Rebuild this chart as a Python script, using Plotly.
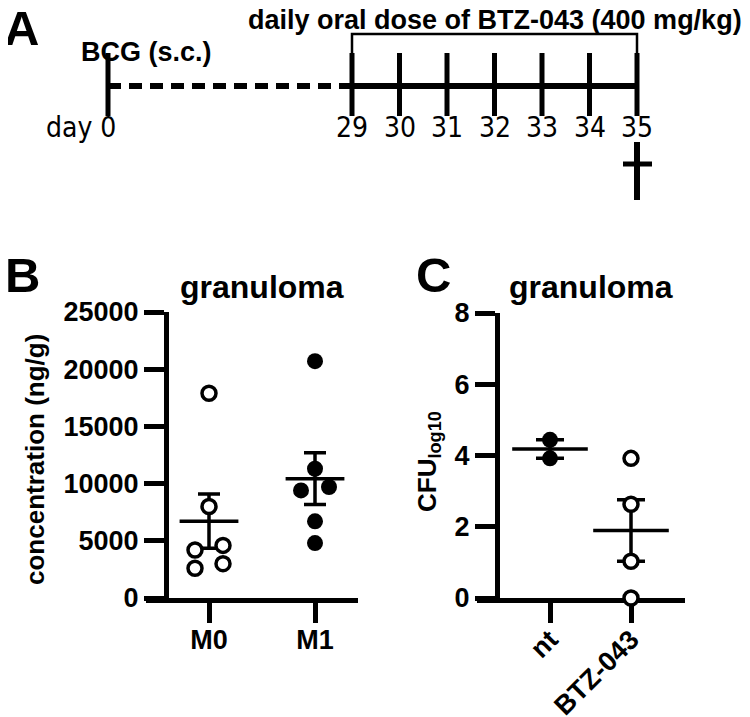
import numpy as np
import plotly.graph_objects as go

# panel A: BCG at day 0, daily BTZ-043 oral dose on days 29-35
bcg_day = 0
dose_days = [29, 30, 31, 32, 33, 34, 35]
day_labels = ["day 0", "29", "30", "31", "32", "33", "34", "35"]

# panel B: granuloma drug concentration (ng/g)
groups_b = ["M0", "M1"]
conc_m0 = [17900, 8000, 4200, 4600, 2600, 3000]
conc_m1 = [20700, 11300, 9400, 9700, 6700, 4800]
yticks_b = [0, 5000, 10000, 15000, 20000, 25000]

# panel C: granuloma CFU (log10)
groups_c = ["nt", "BTZ-043"]
cfu_nt = [4.44, 3.92]
cfu_btz = [3.92, 2.63, 1.03, 0.0]
yticks_c = [0, 2, 4, 6, 8]

# page is 750x717 but the body keeps its 8px margin, so the figure is a bit smaller
PAGE_W, PAGE_H = 750, 717
OFF = 8
W, H = PAGE_W - OFF, PAGE_H - OFF
FONT = "Liberation Sans, Arial, Helvetica, sans-serif"
NARROW = "Liberation Sans Narrow, Arial Narrow, DejaVu Sans Condensed, Liberation Sans, sans-serif"


def fx(px):
    return (px - OFF) / W


def fy(py):
    return 1 - (py - OFF) / H


def cat_range(dom, cats):
    # x range so the two categories land on the given pixel columns
    ppu = cats[1] - cats[0]
    return [-(cats[0] - dom[0]) / ppu, 1 + (dom[1] - cats[1]) / ppu], ppu


def swarm(vals, ppu_y, diam=17, step=28):
    # simple row-binned swarm: points closer than a marker diameter sit side by side
    vals = np.asarray(vals, dtype=float)
    order = np.argsort(vals)
    offs = np.zeros(len(vals))
    groups, cur = [], [order[0]]
    for i in order[1:]:
        if (vals[i] - vals[cur[0]]) * ppu_y < diam:
            cur.append(i)
        else:
            groups.append(cur)
            cur = [i]
    groups.append(cur)
    for g in groups:
        for k, i in enumerate(g):
            offs[i] = (k - (len(g) - 1) / 2) * step
    return offs


def sem(v):
    v = np.asarray(v, dtype=float)
    return v.std(ddof=1) / np.sqrt(len(v))


fig = go.Figure()

# ---------- panel A (timeline) ----------
ppd = (637 - 352) / (dose_days[-1] - dose_days[0])
xr3 = [dose_days[0] - (352 - OFF) / ppd, dose_days[-1] + (PAGE_W - 637) / ppd]
gap = (352 - 108) / ppd


def tpos(d):
    # broken timeline: day 0 drawn a fixed gap before day 29
    return d if d >= dose_days[0] else dose_days[0] - gap


line_y = 86
fig.add_trace(go.Scatter(x=[tpos(bcg_day), tpos(dose_days[0])], y=[line_y, line_y], mode="lines",
                         line=dict(color="black", width=6, dash="13px,8px"), xaxis="x3", yaxis="y3"))
fig.add_trace(go.Scatter(x=[tpos(dose_days[0]), tpos(dose_days[-1])], y=[line_y, line_y], mode="lines",
                         line=dict(color="black", width=6), xaxis="x3", yaxis="y3"))
all_days = [bcg_day] + dose_days
fig.add_trace(go.Scatter(x=[tpos(d) for d in all_days], y=[84.5] * len(all_days), mode="markers",
                         marker=dict(symbol="line-ns", size=45, line=dict(color="black", width=5)),
                         xaxis="x3", yaxis="y3"))
# bracket over the dosing period
fig.add_trace(go.Scatter(x=[dose_days[0], dose_days[0], dose_days[-1], dose_days[-1]], y=[55, 34, 34, 55],
                         mode="lines", line=dict(color="black", width=2.5), xaxis="x3", yaxis="y3"))
# cross (sacrifice) under day 35
fig.add_trace(go.Scatter(x=[dose_days[-1], dose_days[-1]], y=[142, 200], mode="lines",
                         line=dict(color="black", width=6), xaxis="x3", yaxis="y3"))
fig.add_trace(go.Scatter(x=[dose_days[-1] - 14 / ppd, dose_days[-1] + 15 / ppd], y=[164, 164], mode="lines",
                         line=dict(color="black", width=5), xaxis="x3", yaxis="y3"))

annotations = []
for d, lab in zip(all_days, day_labels):
    if d == bcg_day:
        annotations.append(dict(x=tpos(d), y=127, xref="x3", yref="y3", text=lab, showarrow=False,
                                xanchor="right", yanchor="middle", xshift=10,
                                font=dict(family=NARROW, size=28, color="black")))
    else:
        annotations.append(dict(x=d, y=127, xref="x3", yref="y3", text=lab, showarrow=False,
                                xanchor="center", yanchor="middle",
                                font=dict(family=NARROW, size=28, color="black")))
annotations.append(dict(x=fx(79), y=fy(52), xref="paper", yref="paper", text="BCG (s.c.)", showarrow=False,
                        xanchor="left", yanchor="middle",
                        font=dict(family=FONT, size=27, color="black", weight="bold")))
annotations.append(dict(x=fx(246), y=fy(20), xref="paper", yref="paper",
                        text="daily oral dose of BTZ-043 (400 mg/kg)", showarrow=False,
                        xanchor="left", yanchor="middle",
                        font=dict(family=FONT, size=27, color="black", weight="bold")))

# ---------- panel B ----------
dom_b = (146, 358)
xr_b, ppu_bx = cat_range(dom_b, (209, 315))
ydom_b = (598, 312)
ppu_by = (ydom_b[0] - ydom_b[1]) / yticks_b[-1]

means_b = [np.mean(conc_m0), np.mean(conc_m1)]
sems_b = [sem(conc_m0), sem(conc_m1)]
fig.add_trace(go.Scatter(x=[0, 1], y=means_b, mode="markers", marker=dict(size=1, opacity=0),
                         error_y=dict(type="data", array=sems_b, width=11, thickness=3.5, color="black"),
                         xaxis="x", yaxis="y"))
fig.add_trace(go.Scatter(x=0 + swarm(conc_m0, ppu_by) / ppu_bx, y=conc_m0, mode="markers", cliponaxis=False,
                         marker=dict(symbol="circle", size=14, color="white", line=dict(color="black", width=3.5)),
                         xaxis="x", yaxis="y"))
fig.add_trace(go.Scatter(x=1 + swarm(conc_m1, ppu_by) / ppu_bx, y=conc_m1, mode="markers", cliponaxis=False,
                         marker=dict(symbol="circle", size=16, color="black", line=dict(width=0)),
                         xaxis="x", yaxis="y"))
fig.add_trace(go.Scatter(x=[0, 1], y=means_b, mode="markers",
                         marker=dict(symbol="line-ew", size=42, line=dict(color="black", width=3.5)),
                         xaxis="x", yaxis="y"))

# ---------- panel C ----------
dom_c = (477, 685)
xr_c, ppu_cx = cat_range(dom_c, (550, 631))
ydom_c = (598, 313)
ppu_cy = (ydom_c[0] - ydom_c[1]) / yticks_c[-1]

means_c = [np.mean(cfu_nt), np.mean(cfu_btz)]
sems_c = [sem(cfu_nt), sem(cfu_btz)]
fig.add_trace(go.Scatter(x=[0, 1], y=means_c, mode="markers", marker=dict(size=1, opacity=0),
                         error_y=dict(type="data", array=sems_c, width=14, thickness=3.5, color="black"),
                         xaxis="x2", yaxis="y2"))
fig.add_trace(go.Scatter(x=0 + swarm(cfu_nt, ppu_cy) / ppu_cx, y=cfu_nt, mode="markers", cliponaxis=False,
                         marker=dict(symbol="circle", size=16, color="black", line=dict(width=0)),
                         xaxis="x2", yaxis="y2"))
fig.add_trace(go.Scatter(x=1 + swarm(cfu_btz, ppu_cy) / ppu_cx, y=cfu_btz, mode="markers", cliponaxis=False,
                         marker=dict(symbol="circle", size=14, color="white", line=dict(color="black", width=3.5)),
                         xaxis="x2", yaxis="y2"))
fig.add_trace(go.Scatter(x=[0, 1], y=means_c, mode="markers",
                         marker=dict(symbol="line-ew", size=54, line=dict(color="black", width=3.5)),
                         xaxis="x2", yaxis="y2"))

tickfont = dict(family=FONT, size=27, color="black", weight="bold")
axis_common = dict(showline=True, linewidth=5, linecolor="black", ticks="outside", ticklen=20,
                   tickwidth=4.5, tickcolor="black", showgrid=False, zeroline=False,
                   automargin=False, fixedrange=True, tickfont=tickfont)

fig.update_layout(
    xaxis=dict(domain=[fx(dom_b[0]), fx(dom_b[1])], range=xr_b, anchor="y", tickvals=[0, 1],
               ticktext=groups_b, ticklabelstandoff=-6, **axis_common),
    yaxis=dict(domain=[fy(ydom_b[0]), fy(ydom_b[1])], range=[0, yticks_b[-1]], anchor="free",
               position=fx(166), tickvals=yticks_b, ticktext=[str(v) for v in yticks_b], **axis_common),
    xaxis2=dict(domain=[fx(dom_c[0]), fx(dom_c[1])], range=xr_c, anchor="y2", tickvals=[0, 1],
                ticktext=groups_c, tickangle=-45, ticklabelstandoff=-10, layer="below traces", **axis_common),
    yaxis2=dict(domain=[fy(ydom_c[0]), fy(ydom_c[1])], range=[0, yticks_c[-1]], anchor="free",
                position=fx(497), tickvals=yticks_c, ticktext=[str(v) for v in yticks_c], **axis_common),
    xaxis3=dict(domain=[0, 1], range=xr3, visible=False, fixedrange=True),
    yaxis3=dict(domain=[0, 1], range=[PAGE_H, OFF], visible=False, fixedrange=True),
)

for lab, px, py in [("A", 2, 28), ("B", 3, 275), ("C", 414, 275)]:
    annotations.append(dict(x=fx(px), y=fy(py), xref="paper", yref="paper", text=lab, showarrow=False,
                            xanchor="left", yanchor="middle",
                            font=dict(family=FONT, size=49, color="black", weight="bold")))

annotations += [
    dict(x=fx(262), y=fy(287), text="granuloma",
         font=dict(family=FONT, size=32, color="black", weight="bold")),
    dict(x=fx(591), y=fy(287), text="granuloma",
         font=dict(family=FONT, size=32, color="black", weight="bold")),
    dict(x=fx(35), y=fy(460), text="concentration (ng/g)", textangle=-90,
         font=dict(family=FONT, size=26, color="black", weight="bold")),
    dict(x=fx(428), y=fy(462), text="CFU<sub>log10</sub>", textangle=-90,
         font=dict(family=FONT, size=26, color="black", weight="bold")),
]
for a in annotations[-4:]:
    a.update(xref="paper", yref="paper", showarrow=False, xanchor="center", yanchor="middle")

fig.update_layout(
    width=W, height=H, margin=dict(l=0, r=0, t=0, b=0),
    template="none", showlegend=False,
    paper_bgcolor="white", plot_bgcolor="rgba(0,0,0,0)",
    annotations=annotations,
)

fig.write_html("out.html")
